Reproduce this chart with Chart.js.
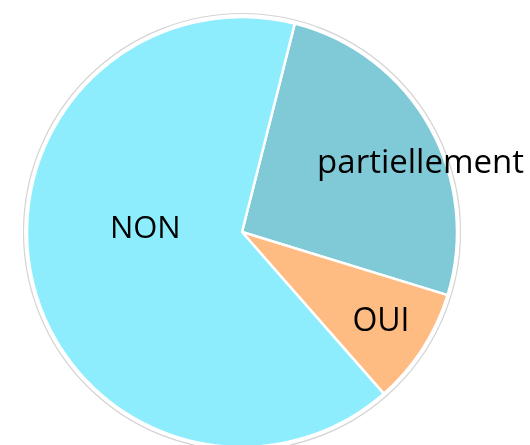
<!DOCTYPE html>
<html>
<head>
<meta charset="utf-8">
<script src="https://cdn.jsdelivr.net/npm/chart.js@4/dist/chart.umd.min.js"></script>
<style>
  html, body { margin: 0; padding: 0; background: #fff; }
</style>
</head>
<body>
<canvas id="myChart" width="530" height="445"></canvas>
<script>
// data (share of answers, %)
const labels = ['partiellement', 'OUI', 'NON'];
const values = [25.8, 8.8, 65.4];
const colors = ['#80CAD8', '#FEBB82', '#8EEDFD'];

// label placement: [angle shift from slice middle (deg), radius fraction, font px]
const labelPlace = [[8.3, 0.89, 33], [0, 0.77, 32], [15.4, 0.45, 31]];

const ringAndLabels = {
    id: 'ringAndLabels',
    beforeDatasetsDraw(chart) {
        const arc = chart.getDatasetMeta(0).data[0];
        const ctx = chart.ctx;
        ctx.save();
        ctx.beginPath();
        ctx.arc(arc.x, arc.y, arc.outerRadius + 3.5, 0, Math.PI * 2);
        ctx.strokeStyle = '#d4d4d4';
        ctx.lineWidth = 1.2;
        ctx.stroke();
        ctx.restore();
    },
    afterDatasetsDraw(chart) {
        const ctx = chart.ctx;
        ctx.save();
        ctx.fillStyle = '#000';
        ctx.textAlign = 'center';
        ctx.textBaseline = 'middle';
        chart.getDatasetMeta(0).data.forEach((a, i) => {
            const mid = (a.startAngle + a.endAngle) / 2 + labelPlace[i][0] * Math.PI / 180;
            const r = a.outerRadius * labelPlace[i][1];
            ctx.font = labelPlace[i][2] + 'px "Open Sans"';
            ctx.fillText(labels[i], a.x + Math.cos(mid) * r, a.y + Math.sin(mid) * r);
        });
        ctx.restore();
    }
};

const config = {
    type: 'pie',
    data: {
        labels,
        datasets: [{
            data: values,
            backgroundColor: colors,
            borderColor: '#ffffff',
            borderWidth: 2.5,
            radius: 215
        }]
    },
    options: {
        responsive: false,
        animation: false,
        rotation: 14.2,
        layout: { padding: { top: 19, right: 46, left: 0, bottom: 0 } },
        plugins: {
            legend: { display: false },
            tooltip: { enabled: false }
        }
    },
    plugins: [ringAndLabels]
};

new Chart(document.getElementById('myChart'), config);
</script>
</body>
</html>
